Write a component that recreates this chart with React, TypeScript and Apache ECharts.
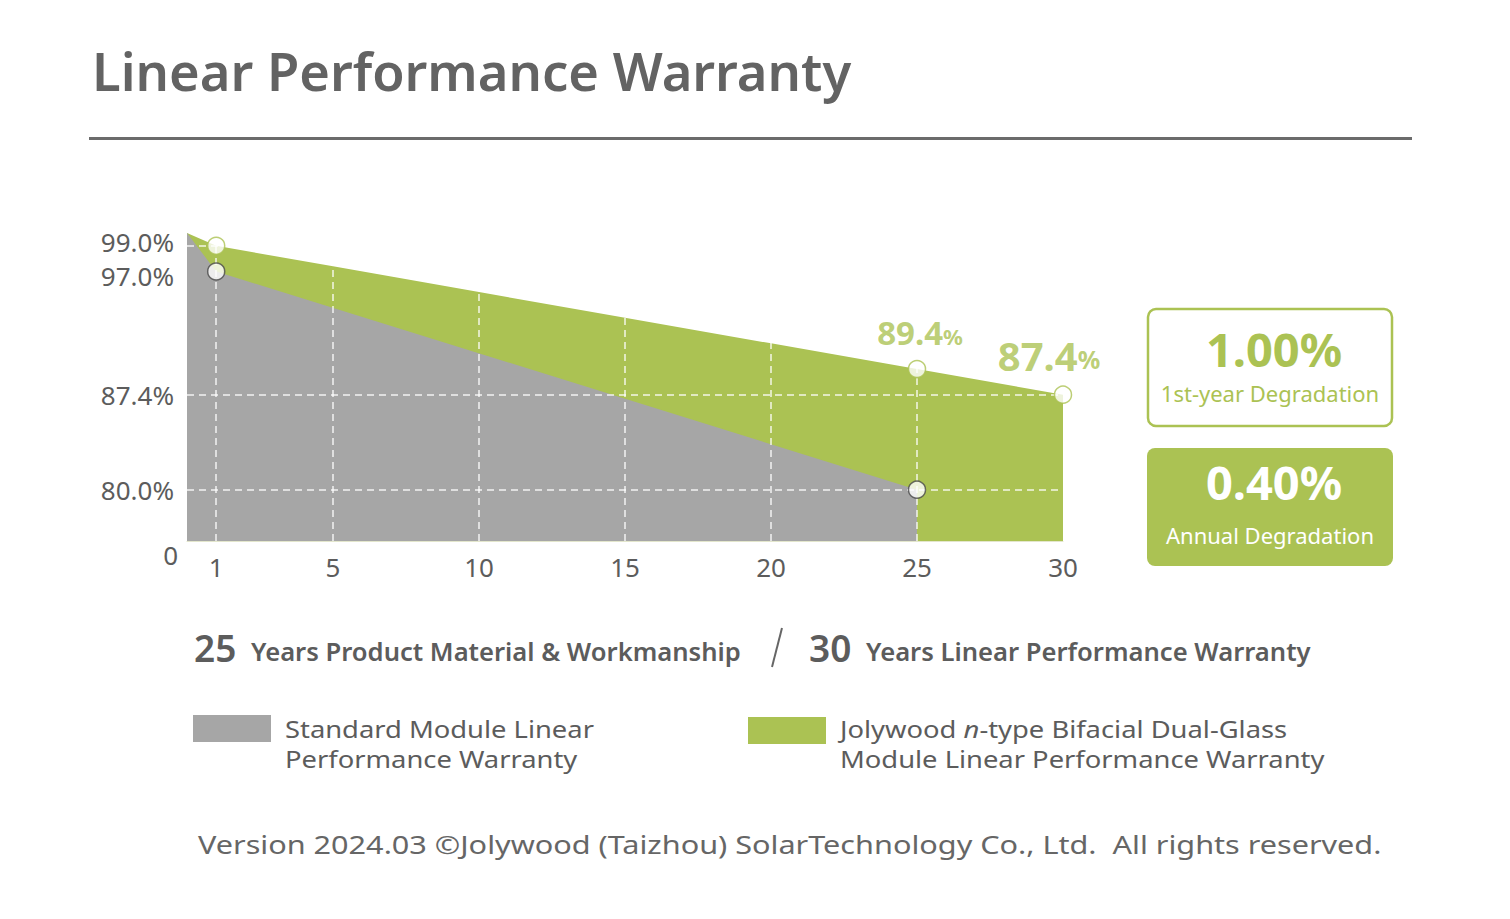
import React, { useEffect, useRef } from "react";
import * as echarts from "echarts";

// ---- data ----
const jolyYears = [0, 1, 5, 10, 15, 20, 25, 30];
const jolyValues = [100, 99, 97.4, 95.4, 93.4, 91.4, 89.4, 87.4];
const stdYears = [0, 1, 25];
const stdValues = [100, 97, 80];
const jolyMarkYears = [1, 25, 30];
const stdMarkYears = [1, 25];
const labelledYears = [25, 30];
const xTicks = [1, 5, 10, 15, 20, 25, 30];
const yTicks = [99, 97, 87.4, 80];
const gridYears = [1, 5, 10, 15, 20, 25];
const gridValues = [80, 87.4, 99];
const Y_MIN = 76;
const Y_MAX = 100;

const GREEN = "#abc253";
const GRAY = "#a6a6a6";
const TXT = "#5c5c5c";
const FONT = "'Noto Sans', 'Open Sans', sans-serif";

const valueAt = (years: number[], vals: number[], y: number) => vals[years.indexOf(y)];

export default function App() {
  const ref = useRef<HTMLDivElement>(null);
  useEffect(() => {
    if (!ref.current) return;
    const chart = echarts.init(ref.current, null, { renderer: "svg" });
    const jolyMarks = jolyMarkYears.map((y) => {
      const v = valueAt(jolyYears, jolyValues, y);
      const big = y === 30;
      return {
        value: [y, v],
        label: labelledYears.includes(y)
          ? {
              show: true,
              position: "top",
              distance: big ? 10 : 11,
              offset: big ? [-14, 0] : [3, 0],
              formatter: (p: any) => `{${big ? "A" : "a"}|${p.value[1]}}{${big ? "B" : "b"}|%}`,
              rich: {
                a: { fontSize: 33, fontWeight: "bold", color: GREEN, fontFamily: FONT },
                b: { fontSize: 22, fontWeight: "bold", color: GREEN, fontFamily: FONT, padding: [7, 0, 0, 0] },
                A: { fontSize: 40, fontWeight: "bold", color: GREEN, fontFamily: FONT },
                B: { fontSize: 25, fontWeight: "bold", color: GREEN, fontFamily: FONT, padding: [8, 0, 0, 0] },
              },
            }
          : { show: false },
      };
    });
    const stdMarks = stdMarkYears.map((y) => [y, valueAt(stdYears, stdValues, y)]);

    const yRich = {
      z: { fontSize: 26, lineHeight: 16, color: TXT, fontFamily: FONT, padding: [28, -4, 0, 0] },
      t: { fontSize: 26, lineHeight: 16, color: TXT, fontFamily: FONT },
      up: { fontSize: 26, lineHeight: 16, color: TXT, fontFamily: FONT, padding: [0, 0, 8, 0] },
      dn: { fontSize: 26, lineHeight: 16, color: TXT, fontFamily: FONT, padding: [8, 0, 0, 0] },
    };

    const option: any = {
      animation: false,
      backgroundColor: "#ffffff",
      grid: { left: 187, right: 1510 - 1063, top: 233, bottom: 919 - 541, containLabel: false },
      xAxis: {
        type: "value",
        min: 0,
        max: 30,
        axisLine: { show: true, lineStyle: { color: "#e3e6cc", width: 1 } },
        axisTick: { show: false },
        splitLine: { show: false },
        axisLabel: {
          customValues: xTicks,
          fontSize: 26,
          color: TXT,
          fontFamily: FONT,
          margin: 13,
          showMinLabel: true,
          showMaxLabel: true,
        },
      },
      yAxis: {
        type: "value",
        min: Y_MIN,
        max: Y_MAX,
        axisLine: { show: false },
        axisTick: { show: false },
        splitLine: { show: false },
        axisLabel: {
          customValues: [Y_MIN, ...yTicks],
          fontSize: 26,
          color: TXT,
          fontFamily: FONT,
          margin: 13,
          hideOverlap: false,
          formatter: (v: number) => {
            if (v === Y_MIN) return "{z|0}";
            const s = v.toFixed(1) + "%";
            if (v === 99) return `{up|${s}}`;
            if (v === 97) return `{dn|${s}}`;
            return `{t|${s}}`;
          },
          rich: yRich,
        },
      },
      series: [
        {
          type: "line",
          name: "Jolywood n-type Bifacial Dual-Glass Module Linear Performance Warranty",
          data: jolyYears.map((y, i) => [y, jolyValues[i]]),
          symbol: "none",
          lineStyle: { width: 0 },
          areaStyle: { color: GREEN, opacity: 1, origin: "start" },
          z: 2,
          silent: true,
        },
        {
          type: "line",
          name: "Standard Module Linear Performance Warranty",
          data: stdYears.map((y, i) => [y, stdValues[i]]),
          symbol: "none",
          lineStyle: { width: 0 },
          areaStyle: { color: GRAY, opacity: 1, origin: "start" },
          z: 3,
          silent: true,
        },
        {
          type: "line",
          name: "grid",
          data: jolyYears.map((y, i) => [y, jolyValues[i]]),
          symbol: "none",
          lineStyle: { width: 0, opacity: 0 },
          z: 4,
          silent: true,
          markLine: {
            silent: true,
            symbol: ["none", "none"],
            label: { show: false },
            lineStyle: { color: "rgba(255,255,255,0.85)", type: [7, 5], width: 1.5 },
            data: [
              ...gridYears.map((x) => ({ xAxis: x })),
              ...gridValues.map((v) => ({ yAxis: v })),
            ],
          },
        },
        {
          type: "scatter",
          data: jolyMarks,
          symbol: "circle",
          symbolSize: 17,
          itemStyle: { color: "#ffffff", borderColor: GREEN, borderWidth: 1.5 },
          z: 6,
          clip: false,
          silent: true,
        },
        {
          type: "scatter",
          data: stdMarks,
          symbol: "circle",
          symbolSize: 17,
          itemStyle: { color: "#ffffff", borderColor: "#4a4a4a", borderWidth: 1.5 },
          z: 6,
          clip: false,
          silent: true,
        },
      ],
      graphic: [
        {
          type: "text",
          left: 92,
          top: 44,
          style: { text: "Linear Performance Warranty", fontSize: 52.5, fontWeight: 600, fill: "#636363", fontFamily: FONT },
        },
        {
          type: "line",
          shape: { x1: 89, y1: 138.5, x2: 1412, y2: 138.5 },
          style: { stroke: "#6b6b6b", lineWidth: 3 },
        },
        // boxes
        {
          type: "rect",
          shape: { x: 1148, y: 309, width: 244, height: 117, r: 8 },
          style: { fill: "#ffffff", stroke: GREEN, lineWidth: 2.5 },
        },
        {
          type: "text",
          x: 1274,
          y: 349,
          style: { text: "1.00%", fontSize: 47, lineHeight: 38, fontWeight: "bold", fill: GREEN, fontFamily: FONT, align: "center", verticalAlign: "middle" },
        },
        {
          type: "text",
          x: 1270,
          y: 393,
          style: { text: "1st-year Degradation", fontSize: 22, lineHeight: 22, fill: GREEN, fontFamily: FONT, align: "center", verticalAlign: "middle" },
        },
        {
          type: "rect",
          shape: { x: 1147, y: 448, width: 246, height: 118, r: 8 },
          style: { fill: GREEN },
        },
        {
          type: "text",
          x: 1274,
          y: 482,
          style: { text: "0.40%", fontSize: 47, lineHeight: 38, fontWeight: "bold", fill: "#ffffff", fontFamily: FONT, align: "center", verticalAlign: "middle" },
        },
        {
          type: "text",
          x: 1270,
          y: 535,
          style: { text: "Annual Degradation", fontSize: 22, lineHeight: 22, fill: "#ffffff", fontFamily: FONT, align: "center", verticalAlign: "middle" },
        },
        // subtitle
        {
          type: "text",
          x: 194,
          y: 647,
          style: { text: "25", fontSize: 37, fontWeight: 600, fill: TXT, fontFamily: FONT, verticalAlign: "middle" },
        },
        {
          type: "text",
          x: 251,
          y: 651,
          style: { text: "Years Product Material & Workmanship", fontSize: 25.6, fontWeight: 600, fill: TXT, fontFamily: FONT, verticalAlign: "middle" },
        },
        {
          type: "line",
          shape: { x1: 782, y1: 628, x2: 772, y2: 667 },
          style: { stroke: "#666666", lineWidth: 2 },
        },
        {
          type: "text",
          x: 809,
          y: 647,
          style: { text: "30", fontSize: 37, fontWeight: 600, fill: TXT, fontFamily: FONT, verticalAlign: "middle" },
        },
        {
          type: "text",
          x: 866,
          y: 651,
          style: { text: "Years Linear Performance Warranty", fontSize: 25.6, fontWeight: 600, fill: TXT, fontFamily: FONT, verticalAlign: "middle" },
        },
        // legend
        {
          type: "rect",
          shape: { x: 193, y: 715, width: 78, height: 27 },
          style: { fill: GRAY },
        },
        {
          type: "text",
          x: 285,
          y: 744,
          scaleX: 1.14,
          style: {
            text: "Standard Module Linear\nPerformance Warranty",
            fontSize: 24,
            lineHeight: 30,
            fill: TXT,
            fontFamily: FONT,
            verticalAlign: "middle",
          },
        },
        {
          type: "rect",
          shape: { x: 748, y: 717, width: 78, height: 27 },
          style: { fill: GREEN },
        },
        {
          type: "text",
          x: 840,
          y: 744,
          scaleX: 1.14,
          style: {
            text: "{t|Jolywood }{i|n}{t|-type Bifacial Dual-Glass}\n{t|Module Linear Performance Warranty}",
            fontSize: 24,
            lineHeight: 30,
            fill: TXT,
            fontFamily: FONT,
            verticalAlign: "middle",
            rich: {
              t: { fontSize: 24, lineHeight: 30, fill: TXT, color: TXT, fontFamily: FONT },
              i: { fontSize: 24, lineHeight: 30, fill: TXT, color: TXT, fontFamily: FONT, fontStyle: "italic" },
            },
          },
        },
        // footer
        {
          type: "text",
          x: 198,
          y: 844,
          scaleX: 1.225,
          style: {
            text: "Version 2024.03 ©Jolywood (Taizhou) SolarTechnology Co., Ltd.  All rights reserved.",
            fontSize: 25,
            fill: "#666666",
            fontFamily: FONT,
            verticalAlign: "middle",
          },
        },
      ],
    };
    chart.setOption(option);
    return () => chart.dispose();
  }, []);
  return <div ref={ref} style={{ position: "fixed", left: 0, top: 0, width: 1510, height: 919 }} />;
}
